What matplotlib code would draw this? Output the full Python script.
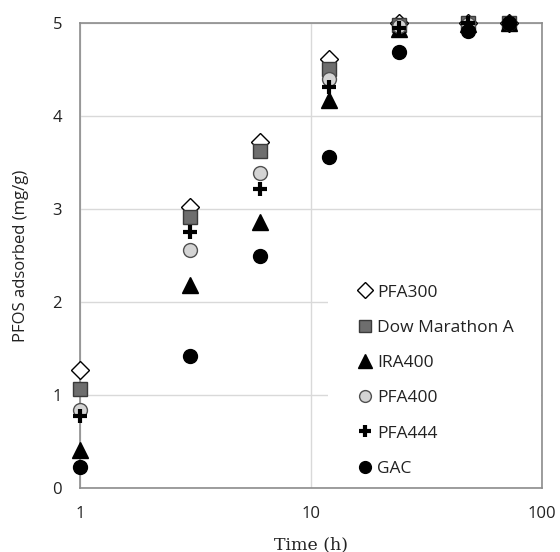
import numpy as np
import matplotlib.pyplot as plt
from matplotlib.patches import Rectangle
from matplotlib.ticker import FixedLocator, NullLocator

time_h = [1, 3, 6, 12, 24, 48, 72]

pfa300 = [1.27, 3.02, 3.72, 4.62, 5.00, 5.00, 5.00]
dow_marathon_a = [1.07, 2.92, 3.62, 4.51, 4.98, 5.00, 5.00]
ira400 = [0.41, 2.18, 2.86, 4.17, 4.94, 4.99, 5.00]
pfa400 = [0.84, 2.56, 3.39, 4.40, 4.97, 4.99, 5.00]
pfa444 = [0.77, 2.75, 3.22, 4.31, 4.95, 5.00, 5.00]
gac = [0.23, 1.42, 2.50, 3.56, 4.69, 4.92, 5.00]

series = [
    ('PFA300', pfa300, dict(marker='D', ms=9.5, mfc='white', mec='black', mew=1.0)),
    ('Dow Marathon A', dow_marathon_a, dict(marker='s', ms=10, mfc='#6e6e6e', mec='#3a3a3a', mew=1.0)),
    ('IRA400', ira400, dict(marker='^', ms=11.5, mfc='black', mec='black', mew=1.0)),
    ('PFA400', pfa400, dict(marker='o', ms=10, mfc='#d4d4d4', mec='#505050', mew=1.0)),
    ('PFA444', pfa444, dict(marker='+', ms=10.5, mec='black', mew=3.0)),
    ('GAC', gac, dict(marker='o', ms=10, mfc='black', mec='black', mew=1.0)),
]

fig = plt.figure(figsize=(5.6, 5.52), dpi=100)
ax = fig.add_axes([0.143, 0.116, 0.825, 0.842])

for name, vals, style in series:
    ax.plot(time_h, vals, linestyle='none', color='black', label=name,
            zorder=3, clip_on=False, **style)

ax.set_xscale('log')
ax.set_xlim(1, 100)
ax.set_ylim(0, 5)
ax.xaxis.set_major_locator(FixedLocator([1, 10, 100]))
ax.xaxis.set_minor_locator(NullLocator())
ax.set_xticklabels(['1', '10', '100'])
ax.set_yticks([0, 1, 2, 3, 4, 5])
ax.tick_params(length=0, pad=13, labelsize=12, labelcolor='#222222')
for lab in ax.get_xticklabels() + ax.get_yticklabels():
    lab.set_fontfamily('Open Sans')

ax.grid(True, color='#d9d9d9', linewidth=1.0)
ax.set_axisbelow(True)
for sp in ax.spines.values():
    sp.set_color('#8c8c8c')
    sp.set_linewidth(1.2)

ax.set_xlabel('Time (h)', fontfamily='DejaVu Serif', fontsize=12.5, labelpad=10, color='#222222')
ax.set_ylabel('PFOS adsorbed (mg/g)', fontfamily='Open Sans', fontsize=12, labelpad=17, color='#222222')

# white area behind the legend hides the grid there
ax.add_patch(Rectangle((0.537, 0.003), 0.46, 0.475, transform=ax.transAxes,
                       facecolor='white', edgecolor='none', zorder=1))

leg = ax.legend(loc='upper left', bbox_to_anchor=(0.602, 0.438), frameon=False,
                prop={'family': 'Open Sans', 'size': 12.5}, labelspacing=1.1,
                handlelength=0.8, handletextpad=0.3, borderpad=0.0,
                borderaxespad=0.0, markerscale=0.85)
for t in leg.get_texts():
    t.set_color('#222222')

fig.savefig('out.png', dpi=100)
